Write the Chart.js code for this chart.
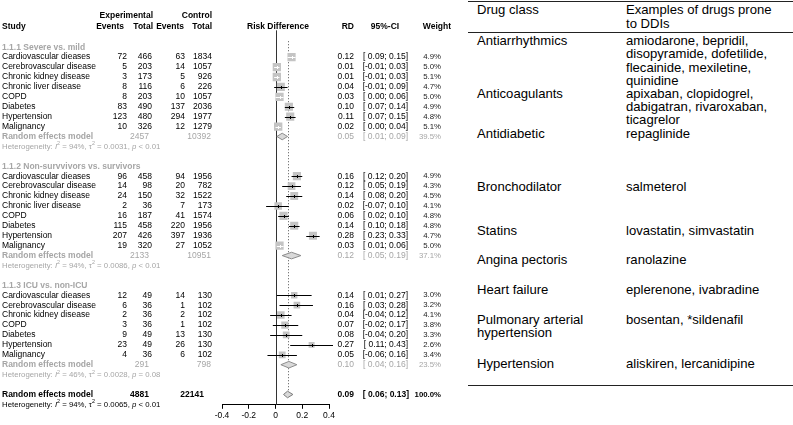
<!DOCTYPE html>
<html>
<head>
<meta charset="utf-8">
<script src="https://cdn.jsdelivr.net/npm/chart.js@4.4.1/dist/chart.umd.min.js"></script>
<style>
body{margin:0;background:#fff;width:793px;height:425px;overflow:hidden;position:relative;font-family:"Liberation Sans",Arial,sans-serif}
#plot{position:absolute;left:0;top:0;width:466px;height:425px}
#tabla{position:absolute;left:468px;top:0;width:325px;height:425px;font-size:13.1px;line-height:13.4px;color:#000}
.linea{position:absolute;left:0;right:0;height:1px;background:#222}
.celda{position:absolute;white-space:pre}
</style>
</head>
<body>
<div id="plot"><canvas id="forest"></canvas></div>
<div id="tabla"></div>
<script>
// ---- datos del forest plot ----
const grupos = ['1.1.1 Severe vs. mild', '1.1.2 Non-survvivors vs. survivors', '1.1.3 ICU vs. non-ICU'];
const estudios = [
    'Cardiovascular dieases', 'Cerebrovascular disease', 'Chronic kidney disease', 'Chronic liver disease', 'COPD', 'Diabetes', 'Hypertension', 'Malignancy',
    'Cardiovascular dieases', 'Cerebrovascular disease', 'Chronic kidney disease', 'Chronic liver disease', 'COPD', 'Diabetes', 'Hypertension', 'Malignancy',
    'Cardiovascular dieases', 'Cerebrovascular disease', 'Chronic kidney disease', 'COPD', 'Diabetes', 'Hypertension', 'Malignancy'
];
const grupoDe = [0,0,0,0,0,0,0,0, 1,1,1,1,1,1,1,1, 2,2,2,2,2,2,2];
const eventosExp = [72, 5, 3, 8, 8, 83, 123, 10, 96, 14, 24, 2, 16, 115, 207, 19, 12, 6, 2, 3, 9, 23, 4];
const totalExp = [466, 203, 173, 116, 203, 490, 480, 326, 458, 98, 150, 36, 187, 458, 426, 320, 49, 36, 36, 36, 49, 49, 36];
const eventosCtrl = [63, 14, 5, 6, 10, 137, 294, 12, 94, 20, 32, 7, 41, 220, 397, 27, 14, 1, 2, 1, 13, 26, 6];
const totalCtrl = [1834, 1057, 926, 226, 1057, 2036, 1977, 1279, 1956, 782, 1522, 173, 1574, 1956, 1936, 1052, 130, 102, 102, 102, 130, 130, 102];
const rd = [0.12, 0.01, 0.01, 0.04, 0.03, 0.10, 0.11, 0.02, 0.16, 0.12, 0.14, 0.02, 0.06, 0.14, 0.28, 0.03, 0.14, 0.16, 0.04, 0.07, 0.08, 0.27, 0.05];
const rdInf = [0.09, -0.01, -0.01, -0.01, 0.00, 0.07, 0.07, 0.00, 0.12, 0.05, 0.08, -0.07, 0.02, 0.10, 0.23, 0.01, 0.01, 0.03, -0.04, -0.02, -0.04, 0.11, -0.06];
const rdSup = [0.15, 0.03, 0.03, 0.09, 0.06, 0.14, 0.15, 0.04, 0.20, 0.19, 0.20, 0.10, 0.10, 0.18, 0.33, 0.06, 0.27, 0.28, 0.12, 0.17, 0.20, 0.43, 0.16];
const peso = [4.9, 5.0, 5.1, 4.7, 5.0, 4.9, 4.8, 5.1, 4.9, 4.3, 4.5, 4.1, 4.8, 4.8, 4.7, 5.0, 3.0, 3.2, 4.1, 3.8, 3.3, 2.6, 3.4];

// modelos de efectos aleatorios por subgrupo
const totalExpGrupo = [2457, 2133, 291];
const totalCtrlGrupo = [10392, 10951, 798];
const rdGrupo = [0.05, 0.12, 0.10];
const rdInfGrupo = [0.01, 0.05, 0.04];
const rdSupGrupo = [0.09, 0.19, 0.16];
const pesoGrupo = [39.5, 37.1, 23.5];
const i2Grupo = ['94%', '94%', '46%'];
const tau2Grupo = ['0.0031', '0.0086', '0.0028'];
const pGrupo = ['< 0.01', '< 0.01', '= 0.08'];

// modelo global
const totalExpGlobal = 4881;
const totalCtrlGlobal = 22141;
const rdGlobal = [0.06, 0.09, 0.13]; // inferior, estimado, superior
const pesoGlobal = 100.0;
const hetGlobal = ['94%', '0.0065', '< 0.01'];

const ticksX = [-0.4, -0.2, 0, 0.2, 0.4];

// ---- datos de la tabla ----
const encabezadoTabla = ['Drug class', 'Examples of drugs prone\nto DDIs'];
const clasesDeFarmacos = ['Antiarrhythmics', 'Anticoagulants', 'Antidiabetic', 'Bronchodilator', 'Statins', 'Angina pectoris', 'Heart failure', 'Pulmonary arterial\nhypertension', 'Hypertension'];
const ejemplosDeFarmacos = [
    'amiodarone, bepridil,\ndisopyramide, dofetilide,\nflecainide, mexiletine,\nquinidine',
    'apixaban, clopidogrel,\ndabigatran, rivaroxaban,\nticagrelor',
    'repaglinide', 'salmeterol', 'lovastatin, simvastatin', 'ranolazine',
    'eplerenone, ivabradine', 'bosentan, *sildenafil', 'aliskiren, lercanidipine'
];
const topFilaTabla = [34, 86.6, 126.6, 180, 224, 253.3, 283.3, 312.6, 356.6]; // layout

// ---- tabla (html) ----
const tabla = document.getElementById('tabla');
function celda(txt, left, top) {
    const d = document.createElement('div');
    d.className = 'celda';
    d.style.left = left + 'px';
    d.style.top = top + 'px';
    d.textContent = txt;
    tabla.appendChild(d);
}
[1.5, 32.5, 385.5].forEach(y => {
    const l = document.createElement('div');
    l.className = 'linea';
    l.style.top = y - 0.5 + 'px';
    tabla.appendChild(l);
});
celda(encabezadoTabla[0], 9, 3.3);
celda(encabezadoTabla[1], 158, 3.3);
clasesDeFarmacos.forEach((c, i) => {
    celda(c, 9, topFilaTabla[i]);
    celda(ejemplosDeFarmacos[i], 158, topFilaTabla[i]);
});

// ---- filas del forest ----
const filaTitulo = [], filaEstudio = [], filaPooled = [], filaHet = [];
let fila = 0;
grupos.forEach((g, gi) => {
    filaTitulo[gi] = fila++;
    grupoDe.forEach((gr, i) => { if (gr === gi) filaEstudio[i] = fila++; });
    filaPooled[gi] = fila++;
    filaHet[gi] = fila++;
    fila++;
});
const filaGlobal = fila;
const filaHetGlobal = fila + 1;

const FUENTE = '"Liberation Sans", Arial, sans-serif';
const GRIS = '#a6a6a6';
const ladoCuadro = w => 3.7 * Math.sqrt(w);

const fmt = v => v.toFixed(2);
const fmtIC = (a, b) => '[' + (a < 0 ? '-' : ' ') + Math.abs(a).toFixed(2) + '; ' + b.toFixed(2) + ']';

function texto(ctx, s, x, y, align, size, color, bold) {
    ctx.font = (bold ? 'bold ' : '') + size + 'px ' + FUENTE;
    ctx.fillStyle = color;
    ctx.textAlign = align;
    ctx.textBaseline = 'middle';
    ctx.fillText(s, x, y);
}

function heterogeneidad(ctx, x, y, i2, tau2, p, color) {
    const partes = [
        ['Heterogeneity: ', ''], ['I', 'italic '], ['2', 'sup'], [' = ' + i2 + ', \u03c4', ''], ['2', 'sup'],
        [' = ' + tau2 + ', ', ''], ['p', 'italic '], [' ' + p, '']
    ];
    ctx.fillStyle = color;
    ctx.textAlign = 'left';
    ctx.textBaseline = 'middle';
    partes.forEach(([s, estilo]) => {
        if (estilo === 'sup') {
            ctx.font = '5.4px ' + FUENTE;
            ctx.fillText(s, x, y - 2.6);
        } else {
            ctx.font = estilo + '7.8px ' + FUENTE;
            ctx.fillText(s, x, y);
        }
        x += ctx.measureText(s).width;
    });
}

function diamante(ctx, xs, y, inf, est, sup, relleno, borde) {
    const h = 3.3;
    ctx.beginPath();
    ctx.moveTo(xs.getPixelForValue(inf), y);
    ctx.lineTo(xs.getPixelForValue(est), y - h);
    ctx.lineTo(xs.getPixelForValue(sup), y);
    ctx.lineTo(xs.getPixelForValue(est), y + h);
    ctx.closePath();
    ctx.fillStyle = relleno;
    ctx.fill();
    ctx.strokeStyle = borde;
    ctx.lineWidth = 1;
    ctx.stroke();
}

const lineasReferencia = {
    id: 'lineasReferencia',
    beforeDatasetsDraw(chart) {
        const { ctx, chartArea: { bottom }, scales: { x, y } } = chart;
        ctx.save();
        ctx.strokeStyle = '#333';
        ctx.lineWidth = 1;
        const x0 = Math.round(x.getPixelForValue(0)) + 0.5;
        ctx.beginPath();
        ctx.moveTo(x0, y.getPixelForValue(-1.7));
        ctx.lineTo(x0, bottom);
        ctx.stroke();
        // linea punteada del efecto global
        const xg = Math.round(x.getPixelForValue(rdGlobal[1])) + 0.5;
        ctx.strokeStyle = '#555';
        ctx.setLineDash([1, 2]);
        ctx.beginPath();
        ctx.moveTo(xg, y.getPixelForValue(-0.6));
        ctx.lineTo(xg, y.getPixelForValue(filaGlobal) - 3);
        ctx.stroke();
        ctx.restore();
    }
};

const marcasForest = {
    id: 'marcasForest',
    afterDatasetsDraw(chart) {
        const { ctx, scales: { x, y } } = chart;
        ctx.save();
        // intervalos de confianza
        rd.forEach((v, i) => {
            const yc = Math.round(y.getPixelForValue(filaEstudio[i])) + 0.5;
            const xc = x.getPixelForValue(v);
            const xi = x.getPixelForValue(rdInf[i]);
            const xs = x.getPixelForValue(rdSup[i]);
            const media = ladoCuadro(peso[i]) / 2 + 0.6;
            const dentro = xi >= xc - media && xs <= xc + media;
            ctx.strokeStyle = dentro ? '#fff' : '#000';
            ctx.lineWidth = 1;
            ctx.beginPath();
            ctx.moveTo(xi, yc);
            ctx.lineTo(xs, yc);
            ctx.stroke();
            ctx.fillStyle = dentro ? '#fff' : '#000';
            ctx.fillRect(Math.round(xc), yc - 1.5, 1, 3);
        });
        // diamantes
        rdGrupo.forEach((v, gi) => {
            diamante(ctx, x, y.getPixelForValue(filaPooled[gi]), rdInfGrupo[gi], v, rdSupGrupo[gi], '#d9d9d9', '#8c8c8c');
        });
        diamante(ctx, x, y.getPixelForValue(filaGlobal), rdGlobal[0], rdGlobal[1], rdGlobal[2], '#d9d9d9', '#7a7a7a');
        ctx.restore();
    }
};

const textosForest = {
    id: 'textosForest',
    afterDraw(chart) {
        const { ctx, scales: { y } } = chart;
        const F = 8.5;
        ctx.save();
        // encabezados
        const yA = y.getPixelForValue(-3.17), yB = y.getPixelForValue(-2.08);
        texto(ctx, 'Experimental', 153, yA, 'right', F, '#000', true);
        texto(ctx, 'Control', 212, yA, 'right', F, '#000', true);
        texto(ctx, 'Study', 2, yB, 'left', F, '#000', true);
        texto(ctx, 'Events', 124, yB, 'right', F, '#000', true);
        texto(ctx, 'Total', 153, yB, 'right', F, '#000', true);
        texto(ctx, 'Events', 184, yB, 'right', F, '#000', true);
        texto(ctx, 'Total', 212, yB, 'right', F, '#000', true);
        texto(ctx, 'Risk Difference', 278, yB, 'center', F, '#000', true);
        texto(ctx, 'RD', 354, yB, 'right', F, '#000', true);
        texto(ctx, '95%-CI', 385, yB, 'center', F, '#000', true);
        texto(ctx, 'Weight', 451, yB, 'right', F, '#000', true);

        grupos.forEach((g, gi) => {
            texto(ctx, g, 2, y.getPixelForValue(filaTitulo[gi]), 'left', F, GRIS, true);
            const yp = y.getPixelForValue(filaPooled[gi]);
            texto(ctx, 'Random effects model', 2, yp, 'left', F, GRIS, true);
            texto(ctx, String(totalExpGrupo[gi]), 149, yp, 'right', F, GRIS, false);
            texto(ctx, String(totalCtrlGrupo[gi]), 211, yp, 'right', F, GRIS, false);
            texto(ctx, fmt(rdGrupo[gi]), 354, yp, 'right', F, GRIS, false);
            texto(ctx, fmtIC(rdInfGrupo[gi], rdSupGrupo[gi]), 408, yp, 'right', F, GRIS, false);
            texto(ctx, pesoGrupo[gi].toFixed(1) + '%', 441, yp, 'right', 7.8, GRIS, false);
            heterogeneidad(ctx, 2, y.getPixelForValue(filaHet[gi]), i2Grupo[gi], tau2Grupo[gi], pGrupo[gi], GRIS);
        });

        estudios.forEach((s, i) => {
            const ye = y.getPixelForValue(filaEstudio[i]);
            texto(ctx, s, 2, ye, 'left', F, '#000', false);
            texto(ctx, String(eventosExp[i]), 127, ye, 'right', F, '#000', false);
            texto(ctx, String(totalExp[i]), 152, ye, 'right', F, '#000', false);
            texto(ctx, String(eventosCtrl[i]), 185, ye, 'right', F, '#000', false);
            texto(ctx, String(totalCtrl[i]), 212, ye, 'right', F, '#000', false);
            texto(ctx, fmt(rd[i]), 354, ye, 'right', F, '#000', false);
            texto(ctx, fmtIC(rdInf[i], rdSup[i]), 408, ye, 'right', F, '#000', false);
            texto(ctx, peso[i].toFixed(1) + '%', 441, ye, 'right', 7.8, '#222', false);
        });

        const yg = y.getPixelForValue(filaGlobal);
        texto(ctx, 'Random effects model', 2, yg, 'left', F, '#000', true);
        texto(ctx, String(totalExpGlobal), 149, yg, 'right', F, '#000', true);
        texto(ctx, String(totalCtrlGlobal), 204, yg, 'right', F, '#000', true);
        texto(ctx, fmt(rdGlobal[1]), 354, yg, 'right', F, '#000', true);
        texto(ctx, fmtIC(rdGlobal[0], rdGlobal[2]), 409, yg, 'right', F, '#000', true);
        texto(ctx, pesoGlobal.toFixed(1) + '%', 441, yg, 'right', 7.8, '#000', true);
        heterogeneidad(ctx, 2, y.getPixelForValue(filaHetGlobal), hetGlobal[0], hetGlobal[1], hetGlobal[2], '#000');
        ctx.restore();
    }
};

new Chart(document.getElementById('forest'), {
    type: 'scatter',
    plugins: [lineasReferencia, marcasForest, textosForest],
    data: {
        datasets: [{
            data: rd.map((v, i) => ({ x: v, y: filaEstudio[i] })),
            pointStyle: 'rect',
            pointRadius: peso.map(w => ladoCuadro(w) / 2 / Math.SQRT1_2),
            pointHoverRadius: peso.map(w => ladoCuadro(w) / 2 / Math.SQRT1_2),
            backgroundColor: '#c4c4c4',
            borderWidth: 0
        }]
    },
    options: {
        responsive: true,
        maintainAspectRatio: false,
        animation: false,
        events: [],
        layout: { padding: { left: 222, right: 137, top: 0, bottom: 2 } },
        plugins: { legend: { display: false }, tooltip: { enabled: false } },
        scales: {
            x: {
                type: 'linear',
                min: ticksX[0],
                max: ticksX[ticksX.length - 1],
                afterBuildTicks: axis => { axis.ticks = ticksX.map(v => ({ value: v })); },
                ticks: {
                    color: '#000',
                    padding: 2,
                    font: { family: FUENTE, size: 8.5 },
                    callback: v => String(Math.round(v * 10) / 10)
                },
                grid: { drawOnChartArea: false, drawTicks: true, tickLength: 4, color: '#000' },
                border: { display: true, color: '#000', width: 1 }
            },
            y: {
                type: 'linear',
                display: false,
                reverse: true,
                min: -4.16,
                max: 36.04
            }
        }
    }
});
</script>
</body>
</html>
